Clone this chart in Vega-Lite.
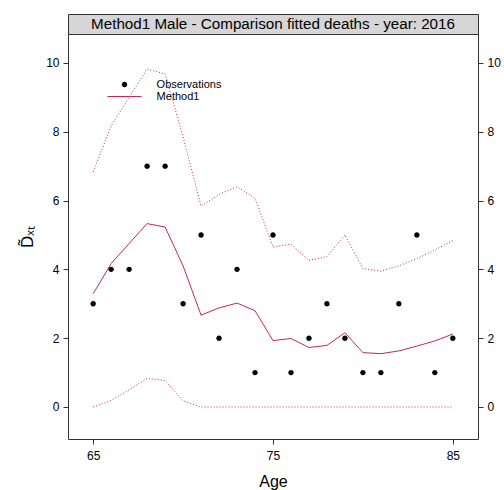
{
  "$schema": "https://vega.github.io/schema/vega-lite/v6.json",
  "padding": {"left": 18, "top": 13, "right": 2, "bottom": 2},
  "spacing": 0,
  "bounds": "flush",
  "config": {
    "font": "Liberation Sans",
    "view": {"stroke": "#333333"},
    "axis": {"domain": false, "grid": false, "tickColor": "#333333", "tickSize": 5, "labelFont": "Liberation Sans", "labelFontSize": 12, "labelColor": "black", "titleFont": "Liberation Sans", "titleFontSize": 16, "titleFontWeight": "normal", "titleColor": "black", "labelOverlap": false}
  },
  "datasets": {
    "main": [
      {"age": 65, "obs": 3, "fit": 3.29, "lower": 0.0, "upper": 6.83},
      {"age": 66, "obs": 4, "fit": 4.17, "lower": 0.19, "upper": 8.17},
      {"age": 67, "obs": 4, "fit": 4.75, "lower": 0.5, "upper": 9.0},
      {"age": 68, "obs": 7, "fit": 5.33, "lower": 0.83, "upper": 9.82},
      {"age": 69, "obs": 7, "fit": 5.23, "lower": 0.77, "upper": 9.68},
      {"age": 70, "obs": 3, "fit": 4.1, "lower": 0.18, "upper": 7.85},
      {"age": 71, "obs": 5, "fit": 2.67, "lower": 0.0, "upper": 5.84},
      {"age": 72, "obs": 2, "fit": 2.88, "lower": 0.0, "upper": 6.18},
      {"age": 73, "obs": 4, "fit": 3.02, "lower": 0.0, "upper": 6.4},
      {"age": 74, "obs": 1, "fit": 2.8, "lower": 0.0, "upper": 6.07},
      {"age": 75, "obs": 5, "fit": 1.93, "lower": 0.0, "upper": 4.65},
      {"age": 76, "obs": 1, "fit": 1.99, "lower": 0.0, "upper": 4.73},
      {"age": 77, "obs": 2, "fit": 1.73, "lower": 0.0, "upper": 4.26},
      {"age": 78, "obs": 3, "fit": 1.79, "lower": 0.0, "upper": 4.37},
      {"age": 79, "obs": 2, "fit": 2.16, "lower": 0.0, "upper": 5.0},
      {"age": 80, "obs": 1, "fit": 1.58, "lower": 0.0, "upper": 4.02},
      {"age": 81, "obs": 1, "fit": 1.55, "lower": 0.0, "upper": 3.95},
      {"age": 82, "obs": 3, "fit": 1.63, "lower": 0.0, "upper": 4.1},
      {"age": 83, "obs": 5, "fit": 1.77, "lower": 0.0, "upper": 4.31},
      {"age": 84, "obs": 1, "fit": 1.92, "lower": 0.0, "upper": 4.56},
      {"age": 85, "obs": 2, "fit": 2.12, "lower": 0.0, "upper": 4.84}
    ]
  },
  "vconcat": [
    {
      "width": 410,
      "height": 20,
      "view": {"fill": "#d6d6d6", "stroke": "#333333"},
      "data": {"values": [{"label": "Method1 Male - Comparison fitted deaths - year: 2016"}]},
      "mark": {"type": "text", "fontSize": 15.2, "font": "Liberation Sans", "color": "black", "baseline": "middle", "align": "center"},
      "encoding": {"text": {"field": "label"}}
    },
    {
      "width": 410,
      "height": 405,
      "view": {"fill": "white", "stroke": "#333333"},
      "data": {"name": "main"},
      "encoding": {
        "x": {"field": "age", "type": "quantitative", "scale": {"domain": [63.6, 86.4], "nice": false, "zero": false},
              "axis": {"values": [65, 75, 85], "title": "Age", "labelPadding": 6, "titlePadding": 12, "labelOverlap": false, "labelFlush": false}}
      },
      "resolve": {"scale": {"y": "independent"}},
      "layer": [
        {
          "mark": {"type": "line", "color": "#BF2A5B", "strokeWidth": 1, "strokeDash": [1, 2]},
          "encoding": {"y": {"field": "upper", "type": "quantitative", "scale": {"domain": [-0.93, 10.84], "nice": false, "zero": false},
            "axis": {"values": [0, 2, 4, 6, 8, 10], "title": "D̃ₓₜ", "titleFontSize": 17, "labelPadding": 4, "titlePadding": 9}}}
        },
        {
          "mark": {"type": "line", "color": "#BF2A5B", "strokeWidth": 1, "strokeDash": [1, 2]},
          "encoding": {"y": {"field": "lower", "type": "quantitative", "scale": {"domain": [-0.93, 10.84], "nice": false, "zero": false}, "axis": null}}
        },
        {
          "mark": {"type": "line", "color": "#BF2A5B", "strokeWidth": 1},
          "encoding": {"y": {"field": "fit", "type": "quantitative", "scale": {"domain": [-0.93, 10.84], "nice": false, "zero": false}, "axis": null}}
        },
        {
          "mark": {"type": "point", "filled": true, "size": 117, "opacity": 1, "strokeWidth": 0},
          "encoding": {
            "y": {"field": "obs", "type": "quantitative", "scale": {"domain": [-0.93, 10.84], "nice": false, "zero": false},
              "axis": {"orient": "right", "values": [0, 2, 4, 6, 8, 10], "title": null, "labelPadding": 4}},
            "color": {"datum": "Observations", "scale": {"domain": ["Observations", "Method1"], "range": ["black", "#BF2A5B"]},
              "legend": {"orient": "none", "legendX": 51, "legendY": 65, "title": null, "labelFontSize": 11, "labelFont": "Liberation Sans", "labelColor": "black", "labelOffset": 26.6, "symbolSize": 117, "rowPadding": 0, "symbolStrokeWidth": 0, "padding": 0}},
            "shape": {"datum": "Observations", "scale": {"domain": ["Observations", "Method1"], "range": ["M-0.5,0a0.5,0.5 0 1,0 1,0a0.5,0.5 0 1,0 -1,0Z", "M-3.15,-0.1H3.15V0.1H-3.15Z"]}}
          }
        }
      ]
    }
  ]
}
